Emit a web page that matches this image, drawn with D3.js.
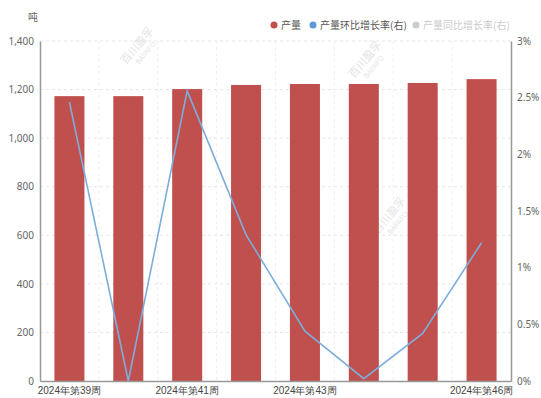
<!DOCTYPE html>
<html><head><meta charset="utf-8">
<script src="https://cdn.jsdelivr.net/npm/d3@7"></script>
<style>body{margin:0;background:#fff}svg{display:block;font-family:"Noto Sans CJK SC","Noto Sans",sans-serif}</style>
</head><body><svg id="c" width="541" height="398"></svg>
<script>
const categories = ["2024年第39周","2024年第40周","2024年第41周","2024年第42周","2024年第43周","2024年第44周","2024年第45周","2024年第46周"];
const output = [1173, 1173, 1202, 1219, 1223, 1223, 1227, 1243];
const momRate = [2.46, 0.0, 2.56, 1.29, 0.44, 0.02, 0.42, 1.22];
const shownLabels = ["2024年第39周","2024年第41周","2024年第43周","2024年第46周"];
const leftTicks = [0,200,400,600,800,1000,1200,1400];
const rightTicks = [0,0.5,1,1.5,2,2.5,3];
const legendItems = ["产量","产量环比增长率(右)","产量同比增长率(右)"];

const svg = d3.select("#c");
const L=40, R=511, T=41, B=381;
const x = d3.scaleBand().domain(categories).range([L,R]).paddingInner(0.49).paddingOuter(0.245);
const xb = d3.scaleBand().domain(categories).range([L,R]);
const y = d3.scaleLinear().domain([0,1400]).range([B,T]);
const y2 = d3.scaleLinear().domain([0,3]).range([B,T]);

// watermark
const wm = [[140,48],[368,62],[392,218]];
wm.forEach(p=>{
  const g = svg.append("g").attr("transform",`translate(${p[0]},${p[1]}) rotate(-50)`).attr("fill","#d8d8d8").attr("opacity",0.7);
  g.append("text").attr("text-anchor","middle").attr("font-size",11).text("百川盈孚");
  g.append("text").attr("text-anchor","middle").attr("y",10).attr("font-size",7).text("BAIINFO");
});

// grid
svg.append("g").selectAll("line").data(leftTicks.slice(1)).join("line")
  .attr("x1",L).attr("x2",R).attr("y1",d=>y(d)).attr("y2",d=>y(d))
  .attr("stroke","#e6e6e6").attr("stroke-dasharray","3,3");
svg.append("g").selectAll("line").data(categories.slice(1)).join("line")
  .attr("x1",d=>xb(d)).attr("x2",d=>xb(d)).attr("y1",T).attr("y2",B)
  .attr("stroke","#efefef").attr("stroke-dasharray","3,3");

// bars
svg.append("g").selectAll("rect").data(output).join("rect")
  .attr("x",(d,i)=>x(categories[i])).attr("width",x.bandwidth())
  .attr("y",d=>y(d)).attr("height",d=>B-y(d)).attr("fill","#c0504d");

// line
const line = d3.line().x((d,i)=>xb(categories[i])+xb.bandwidth()/2).y(d=>y2(d));
svg.append("path").datum(momRate).attr("d",line).attr("fill","none").attr("stroke","#7eaddc").attr("stroke-width",1.6);

// axes
const la = svg.append("g").attr("transform",`translate(${L},0)`)
  .call(d3.axisLeft(y).tickValues(leftTicks).tickSize(0).tickPadding(6).tickFormat(d3.format(",")));
la.select(".domain").attr("stroke","#999").attr("stroke-width",1.5);
la.selectAll("text").attr("fill","#666").attr("font-size",10).attr("font-family","Noto Sans, sans-serif");
const ra = svg.append("g").attr("transform",`translate(${R},0)`)
  .call(d3.axisRight(y2).tickValues(rightTicks).tickSize(0).tickPadding(6).tickFormat(d=>d+"%"));
ra.select(".domain").attr("stroke","#999").attr("stroke-width",1.5);
ra.selectAll("text").attr("fill","#666").attr("font-size",10).attr("font-family","Noto Sans, sans-serif");
const ba = svg.append("g").attr("transform",`translate(0,${B})`)
  .call(d3.axisBottom(xb).tickSize(0).tickPadding(6).tickFormat(d=>shownLabels.includes(d)?d:""));
ba.select(".domain").attr("stroke","#999").attr("stroke-width",1.5);
ba.selectAll("text").attr("fill","#444").attr("font-size",10);

svg.append("text").attr("x",33).attr("y",21).attr("text-anchor","middle").attr("font-size",10).attr("fill","#666").text("吨");

// legend
const lx = [274,313,416];
const lc = ["#c0504d","#5b9bd5","#ccc"];
const lt = ["#555","#555","#ccc"];
legendItems.forEach((t,i)=>{
  svg.append("circle").attr("cx",lx[i]).attr("cy",25).attr("r",3.5).attr("fill",lc[i]);
  svg.append("text").attr("x",lx[i]+7).attr("y",28.5).attr("font-size",10).attr("fill",lt[i]).text(t);
});
</script></body></html>
